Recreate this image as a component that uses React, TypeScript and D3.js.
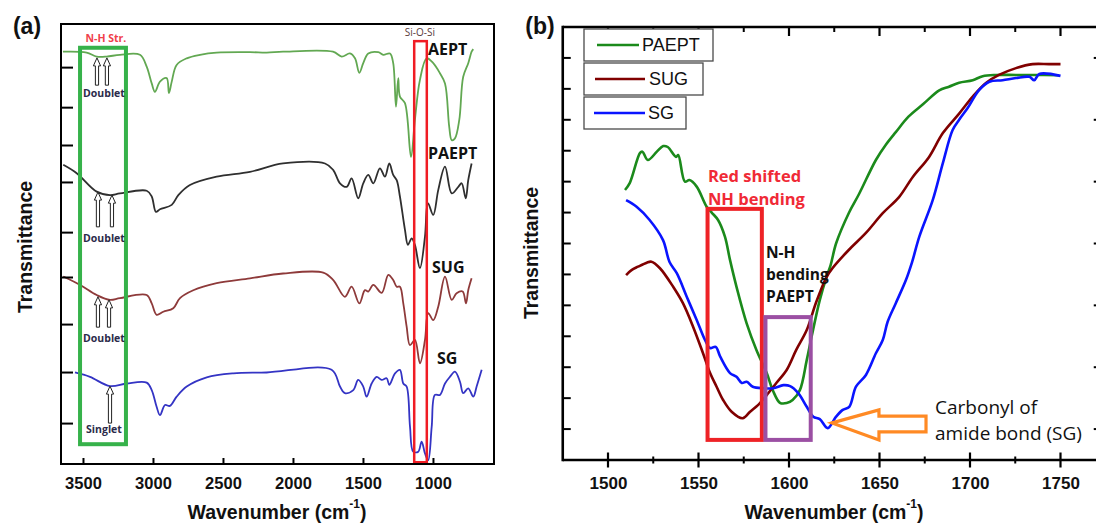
import React, { useEffect, useRef } from "react";
import * as d3 from "d3";

const W = 1096;
const H = 523;

// ---------- panel (a): full FTIR spectra, [wavenumber, transmittance (arb., stacked)]
const aeptA = [
  [3643, 93.7], [3474, 93.5], [3402, 92.6], [3331, 92.6], [3236, 93.0], [3093, 93.0],
  [3045, 90.3], [3009, 86.5], [2986, 84.6], [2950, 86.9], [2902, 87.7], [2886, 84.3],
  [2866, 86.9], [2831, 90.7], [2759, 92.2], [2664, 93.0], [2545, 93.5], [2307, 93.6],
  [2188, 93.5], [2071, 93.7], [1714, 93.7], [1652, 92.6], [1593, 93.3], [1557, 92.2],
  [1526, 88.9], [1498, 91.1], [1462, 93.3], [1391, 93.6], [1355, 93.0], [1307, 93.3],
  [1284, 91.1], [1264, 81.2], [1248, 87.7], [1236, 83.5], [1200, 82.0], [1157, 69.8],
  [1129, 78.2], [1093, 87.3], [1045, 92.2], [998, 91.1], [950, 88.8], [914, 86.5],
  [884, 76.7], [866, 73.6], [843, 74.0], [812, 78.2], [784, 88.0], [748, 91.1],
  [724, 93.7], [712, 94.3],
];
const paeptA = [
  [3641, 68.0], [3545, 66.1], [3402, 61.9], [3307, 61.1], [3236, 61.5], [3045, 62.1],
  [3009, 60.8], [2979, 57.3], [2950, 57.9], [2866, 58.9], [2819, 61.1], [2736, 63.4],
  [2545, 65.3], [2307, 66.4], [2071, 68.3], [1771, 68.3], [1712, 66.8], [1664, 63.8],
  [1616, 63.0], [1581, 64.9], [1534, 60.4], [1498, 63.8], [1462, 65.7], [1426, 63.8],
  [1379, 67.2], [1343, 65.3], [1312, 68.3], [1284, 65.7], [1259, 64.5], [1236, 60.8],
  [1200, 53.2], [1179, 49.8], [1152, 51.3], [1129, 49.8], [1093, 44.5], [1057, 51.7],
  [1036, 59.3], [998, 56.6], [962, 62.3], [914, 67.6], [866, 61.5], [819, 63.0],
  [795, 63.8], [766, 60.4], [748, 64.5], [724, 68.3],
];
const sugA = [
  [3641, 42.6], [3521, 40.7], [3402, 38.4], [3307, 37.3], [3236, 37.7], [3045, 38.4],
  [3009, 36.5], [2974, 33.9], [2926, 34.6], [2855, 35.4], [2807, 37.7], [2712, 39.5],
  [2545, 41.1], [2307, 42.2], [2071, 43.3], [1784, 43.5], [1712, 41.8], [1629, 38.0],
  [1581, 40.3], [1526, 36.5], [1486, 39.5], [1462, 39.2], [1426, 40.7], [1366, 38.9],
  [1319, 43.0], [1284, 41.8], [1259, 40.3], [1236, 40.3], [1212, 36.5], [1188, 31.2],
  [1164, 27.0], [1129, 28.2], [1093, 22.9], [1057, 28.2], [1034, 34.3], [998, 32.7],
  [962, 35.8], [914, 42.6], [866, 37.3], [831, 38.8], [788, 39.2], [764, 36.5],
  [748, 39.5], [724, 42.2],
];
const sgA = [
  [3557, 20.8], [3450, 19.8], [3307, 17.7], [3188, 18.3], [3045, 18.5], [3009, 16.8],
  [2974, 13.0], [2950, 11.1], [2914, 13.4], [2879, 13.2], [2831, 15.3], [2759, 17.6],
  [2616, 19.7], [2426, 20.6], [2188, 20.8], [1724, 21.4], [1664, 17.6], [1629, 16.1],
  [1569, 16.8], [1534, 19.1], [1498, 17.6], [1474, 15.3], [1438, 18.3], [1402, 19.8],
  [1366, 19.1], [1331, 19.5], [1312, 18.0], [1271, 20.6], [1236, 21.4], [1212, 18.3],
  [1188, 17.6], [1164, 8.5], [1141, 2.8], [1105, 2.8], [1081, 5.1], [1057, 2.4],
  [1034, 0.9], [1009, 8.5], [986, 15.7], [950, 15.7], [914, 18.3], [879, 19.8],
  [843, 21.0], [807, 18.7], [784, 16.1], [748, 17.2], [712, 15.3], [688, 17.6], [652, 21.4],
];

const xTicksA = [3500, 3000, 2500, 2000, 1500, 1000];
const yTicksA = [90.2, 81.1, 72.5, 64.1, 52.7, 42.5, 31.8, 20.9, 9.3];

// series labels of panel (a): [name, wavenumber, level]
const labelsA = [
  ["AEPT", 1036, 94.3],
  ["PAEPT", 1036, 70.7],
  ["SUG", 1007, 44.8],
  ["SG", 971, 24.1],
];
// hollow arrows of panel (a): [wavenumber, tip, base]
const arrowsA = [
  [3400, 92.3, 86.1], [3329, 92.3, 86.1],
  [3393, 61.8, 53.9], [3293, 61.1, 53.9],
  [3393, 38.0, 31.1], [3314, 37.3, 31.1],
  [3307, 17.7, 9.3],
];
const arrowTextA = [
  ["Doublet", 3350, 84.3],
  ["Doublet", 3350, 51.4],
  ["Doublet", 3350, 28.6],
  ["Singlet", 3350, 8.0],
];

// ---------- panel (b): zoom on 1500-1750 cm-1
const paeptB = [
  [1509.4, 8.73], [1512, 8.95], [1517.7, 9.93], [1519, 9.97], [1522, 9.7], [1527, 9.97],
  [1530.5, 10.15], [1533, 10.12], [1537.6, 9.8], [1538.8, 9.86], [1542.5, 9.0], [1545, 9.05],
  [1549, 8.84], [1554.5, 8.19], [1557.3, 8.0], [1560.8, 7.76], [1564.6, 7.22], [1567.4, 6.47],
  [1571, 5.6], [1576.6, 4.42], [1582, 3.56], [1587.7, 2.81], [1591, 2.26], [1595, 1.85],
  [1598.7, 1.84], [1602, 1.94], [1606, 2.26], [1609.8, 3.23], [1612.5, 3.99], [1617, 5.17],
  [1620.8, 5.93], [1623, 6.3], [1626, 7.0], [1633, 7.98], [1638.7, 8.6], [1648, 9.7],
  [1653.6, 10.2], [1659, 10.6], [1666, 11.1], [1674, 11.5], [1683, 11.95], [1688.4, 12.07],
  [1694, 12.2], [1701.5, 12.28], [1707, 12.41], [1714.4, 12.45], [1725.4, 12.45],
  [1734.6, 12.45], [1749, 12.44],
];
const sugB = [
  [1510, 5.98], [1513, 6.14], [1516.6, 6.25], [1521.4, 6.38], [1524, 6.41], [1528.7, 6.2],
  [1536, 5.6], [1541.4, 5.07], [1547, 4.31], [1552.5, 3.45], [1556.4, 2.81], [1560, 2.37],
  [1563.6, 1.94], [1568.3, 1.56], [1574.4, 1.35], [1578.5, 1.56], [1583, 1.78], [1587.7, 2.1],
  [1593, 2.49], [1598.7, 2.91], [1604, 3.56], [1609.8, 4.2], [1615, 5.1], [1620.6, 5.9],
  [1624, 6.2], [1633, 6.79], [1642.5, 7.34], [1651.8, 7.98], [1660.8, 8.5], [1668.4, 9.15],
  [1677.4, 9.8], [1685, 10.57], [1694, 11.2], [1701.5, 11.75], [1708.8, 12.19], [1716, 12.45],
  [1725.4, 12.67], [1734.6, 12.8], [1743.6, 12.8], [1750, 12.8],
];
const sgB = [
  [1510, 8.4], [1515.8, 8.19], [1523, 7.76], [1530.4, 7.11], [1534, 6.4], [1538, 6.04],
  [1543.5, 5.28], [1549, 4.53], [1553.6, 3.88], [1556.4, 3.62], [1559.5, 3.66], [1562, 3.34],
  [1567.4, 2.81], [1571, 2.69], [1573.9, 2.49], [1576.6, 2.53], [1580, 2.37], [1585.8, 2.32],
  [1591.3, 2.32], [1596.9, 2.42], [1600.6, 2.39], [1605, 2.17], [1609.8, 1.72], [1613.4, 1.4],
  [1617, 1.32], [1621.4, 1.03], [1626, 1.4], [1629.7, 1.62], [1633.3, 1.72], [1637, 2.37],
  [1642.5, 2.75], [1648, 3.45], [1651.8, 3.88], [1654.5, 4.47], [1659, 5.07], [1664.6, 5.82],
  [1668, 6.4], [1672, 7.22], [1679.4, 8.4], [1685, 9.6], [1690.4, 10.67], [1694, 11.0],
  [1698.7, 11.38], [1705, 11.96], [1710.7, 12.23], [1718, 12.28], [1725.4, 12.35],
  [1732.8, 12.39], [1735.5, 12.28], [1738.3, 12.48], [1750, 12.42],
];

const xMajorB = [1500, 1550, 1600, 1650, 1700, 1750];
const xMinorB = [1525, 1575, 1625, 1675, 1725];
const yTicksB = d3.range(1, 14);

const legendB = [
  { name: "PAEPT", color: "#1b8a1b" },
  { name: "SUG", color: "#800000" },
  { name: "SG", color: "#0a14ff" },
];

const AXIS_FONT = "'Liberation Sans', Arial, sans-serif";
const NOTE_FONT = "'Open Sans', 'Noto Sans', sans-serif";

function arrowPath(x: number, tip: number, base: number) {
  const hw = 3.6, sw = 1.6, hh = 8;
  return `M${x},${tip} L${x + hw},${tip + hh} L${x + sw},${tip + hh} L${x + sw},${base} ` +
    `L${x - sw},${base} L${x - sw},${tip + hh} L${x - hw},${tip + hh} Z`;
}

function App() {
  const svgRef = useRef<SVGSVGElement>(null);

  useEffect(() => {
    const svg = d3.select(svgRef.current);
    svg.selectAll("*").remove();

    // ================= panel (a) =================
    const xA = d3.scaleLinear().domain([3657, 564]).range([61, 494]);
    const yA = d3.scaleLinear().domain([0, 100]).range([464, 24]);
    const gA = svg.append("g");

    const lineA = d3.line<number[]>()
      .x(d => xA(d[0]))
      .y(d => yA(d[1]))
      .curve(d3.curveCatmullRom.alpha(0.5));

    const seriesA: [number[][], string][] = [
      [aeptA, "#62a852"],
      [paeptA, "#2f2f2f"],
      [sugA, "#8e3a3a"],
      [sgA, "#3434c4"],
    ];
    seriesA.forEach(([data, color]) => {
      gA.append("path")
        .attr("d", lineA(data))
        .attr("fill", "none")
        .attr("stroke", color)
        .attr("stroke-width", 1.8)
        .attr("stroke-linejoin", "round");
    });

    // green N-H box and red Si-O-Si box
    gA.append("rect")
      .attr("x", xA(3521)).attr("y", yA(94.6))
      .attr("width", xA(3193) - xA(3521)).attr("height", yA(4.5) - yA(94.6))
      .attr("fill", "none").attr("stroke", "#36b24a").attr("stroke-width", 4);
    gA.append("rect")
      .attr("x", xA(1134)).attr("y", yA(96.1))
      .attr("width", xA(1044) - xA(1134)).attr("height", yA(0.4) - yA(96.1))
      .attr("fill", "none").attr("stroke", "#f01c24").attr("stroke-width", 2.5);

    gA.append("text")
      .attr("x", xA(3336)).attr("y", yA(96.8))
      .attr("text-anchor", "middle").attr("dominant-baseline", "central")
      .attr("font-family", NOTE_FONT).attr("font-weight", 700).attr("font-size", 10.5)
      .attr("fill", "#f0404a").text("N-H Str.");
    gA.append("text")
      .attr("x", xA(1093)).attr("y", yA(98.2))
      .attr("text-anchor", "middle").attr("dominant-baseline", "central")
      .attr("font-family", NOTE_FONT).attr("font-size", 10)
      .attr("fill", "#5a3a3a").text("Si-O-Si");

    arrowsA.forEach(([v, tip, base]) => {
      gA.append("path")
        .attr("d", arrowPath(xA(v), yA(tip), yA(base)))
        .attr("fill", "#fff").attr("stroke", "#222").attr("stroke-width", 1);
    });
    arrowTextA.forEach(([t, v, u]) => {
      gA.append("text")
        .attr("x", xA(v as number)).attr("y", yA(u as number))
        .attr("text-anchor", "middle").attr("dominant-baseline", "central")
        .attr("font-family", NOTE_FONT).attr("font-weight", 700).attr("font-size", 10.5)
        .attr("fill", "#2b2b4a").text(t as string);
    });
    labelsA.forEach(([t, v, u]) => {
      gA.append("text")
        .attr("x", xA(v as number)).attr("y", yA(u as number))
        .attr("dominant-baseline", "central")
        .attr("font-family", NOTE_FONT).attr("font-weight", 700).attr("font-size", 16)
        .attr("fill", "#111").text(t as string);
    });

    // frame + ticks
    gA.append("rect")
      .attr("x", 61).attr("y", 24).attr("width", 433).attr("height", 440)
      .attr("fill", "none").attr("stroke", "#000").attr("stroke-width", 2);

    const axA = gA.append("g").attr("transform", `translate(0,${yA(0)})`)
      .call(d3.axisBottom(xA).tickValues(xTicksA).tickSizeInner(-6).tickSizeOuter(0).tickPadding(13).tickFormat(d3.format("d")));
    axA.select(".domain").remove();
    axA.selectAll("line").attr("stroke-width", 2);
    axA.selectAll("text")
      .attr("font-family", AXIS_FONT).attr("font-weight", 700).attr("font-size", 16.5).attr("fill", "#111");

    const ayA = gA.append("g").attr("transform", `translate(${xA(3657)},0)`)
      .call(d3.axisLeft(yA).tickValues(yTicksA).tickSizeInner(-12).tickSizeOuter(0).tickFormat(() => ""));
    ayA.select(".domain").remove();
    ayA.selectAll("line").attr("stroke-width", 2);

    // ================= panel (b) =================
    const xB = d3.scaleLinear().domain([1475, 1775]).range([562.75, 1105.75]);
    const yB = d3.scaleLinear().domain([0, 14]).range([460, 27]);
    const gB = svg.append("g");

    const lineB = d3.line<number[]>()
      .x(d => xB(d[0]))
      .y(d => yB(d[1]))
      .curve(d3.curveCatmullRom.alpha(0.5));

    [paeptB, sugB, sgB].forEach((data, i) => {
      gB.append("path")
        .attr("d", lineB(data))
        .attr("fill", "none")
        .attr("stroke", legendB[i].color)
        .attr("stroke-width", 2.6)
        .attr("stroke-linejoin", "round");
    });

    // boxes
    gB.append("rect")
      .attr("x", xB(1555)).attr("y", yB(8.12))
      .attr("width", xB(1585) - xB(1555)).attr("height", yB(0.65) - yB(8.12))
      .attr("fill", "none").attr("stroke", "#ee2226").attr("stroke-width", 4);
    gB.append("rect")
      .attr("x", xB(1587)).attr("y", yB(4.62))
      .attr("width", xB(1612) - xB(1587)).attr("height", yB(0.65) - yB(4.62))
      .attr("fill", "none").attr("stroke", "#9b4fa3").attr("stroke-width", 4);

    const noteB = (t: string, v: number, u: number, color: string, bold: boolean, size: number) =>
      gB.append("text")
        .attr("x", xB(v)).attr("y", yB(u))
        .attr("dominant-baseline", "central")
        .attr("font-family", NOTE_FONT).attr("font-weight", bold ? 700 : 400)
        .attr("font-size", size)
        .attr("fill", color).text(t);
    noteB("Red shifted", 1555.2, 9.21, "#f02a36", true, 16.5);
    noteB("NH bending", 1555.2, 8.44, "#f02a36", true, 16.5);
    noteB("N-H", 1587.3, 6.72, "#111", true, 15.5);
    noteB("bending", 1587.3, 6.01, "#111", true, 15.5);
    noteB("PAEPT", 1587.3, 5.30, "#111", true, 15.5);
    noteB("Carbonyl of", 1680.7, 1.71, "#111", false, 19);
    noteB("amide bond (SG)", 1680.7, 0.87, "#111", false, 19);

    // orange outline arrow pointing at the SG carbonyl minimum
    const tip: [number, number] = [xB(1623.8), yB(1.2)];
    const hb = xB(1649.7), tail = xB(1675.7);
    gB.append("path")
      .attr("d", `M${tip[0]},${tip[1]} L${hb},${yB(1.62)} L${hb},${yB(1.42)} L${tail},${yB(1.42)} ` +
        `L${tail},${yB(0.91)} L${hb},${yB(0.91)} L${hb},${yB(0.65)} Z`)
      .attr("fill", "#fff").attr("stroke", "#ff8a24").attr("stroke-width", 3.2)
      .attr("stroke-linejoin", "miter");

    // axes
    const axisLine = (x1: number, y1: number, x2: number, y2: number, w: number) =>
      gB.append("line").attr("x1", x1).attr("y1", y1).attr("x2", x2).attr("y2", y2)
        .attr("stroke", "#000").attr("stroke-width", w);
    axisLine(xB(1475), yB(0), xB(1775), yB(0), 2.6);
    axisLine(xB(1475), yB(14), xB(1775), yB(14), 2.6);
    axisLine(xB(1475), yB(0) + 1.3, xB(1475), yB(14) - 1.3, 2.6);
    axisLine(xB(1775), yB(0), xB(1775), yB(14), 2.6);

    xMajorB.forEach(v => {
      axisLine(xB(v), yB(0) - 7.5, xB(v), yB(0) + 7.5, 2.2);
      axisLine(xB(v), yB(14), xB(v), yB(14) + 9, 2.2);
    });
    xMinorB.forEach(v => {
      axisLine(xB(v), yB(0) - 3.5, xB(v), yB(0) + 3.5, 2);
      axisLine(xB(v), yB(14), xB(v), yB(14) + 5, 2);
    });
    yTicksB.forEach(u => {
      axisLine(xB(1475), yB(u), xB(1475) + 8, yB(u), 2);
      if (u % 2 === 1) axisLine(xB(1775) - 12, yB(u), xB(1775), yB(u), 2);
    });

    const axB = gB.append("g").attr("transform", `translate(0,${yB(0)})`)
      .call(d3.axisBottom(xB).tickValues(xMajorB).tickSize(0).tickPadding(17).tickFormat(d3.format("d")));
    axB.select(".domain").remove();
    axB.selectAll("text")
      .attr("font-family", AXIS_FONT).attr("font-weight", 700).attr("font-size", 17).attr("fill", "#111");

    // legend
    legendB.forEach((s, i) => {
      const bw = [129, 119, 102][i];
      const by = 29 + i * 34;
      gB.append("rect")
        .attr("x", 584).attr("y", by).attr("width", bw).attr("height", 32)
        .attr("fill", "#fff").attr("stroke", "#4a4a4a").attr("stroke-width", 1.3);
      gB.append("line")
        .attr("x1", [597, 595, 594][i]).attr("x2", [639, 645, 645][i])
        .attr("y1", by + 16).attr("y2", by + 16)
        .attr("stroke", s.color).attr("stroke-width", 2.6);
      gB.append("text")
        .attr("x", [642, 649, 648][i]).attr("y", by + 16)
        .attr("dominant-baseline", "central")
        .attr("font-family", AXIS_FONT).attr("font-size", 18).attr("fill", "#111")
        .text(s.name);
    });

    // ================= shared titles =================
    const title = (cx: number, cy: number, rotate: boolean, t: string, sup?: boolean) => {
      const el = svg.append("text")
        .attr("transform", `translate(${cx},${cy})${rotate ? " rotate(-90)" : ""}`)
        .attr("text-anchor", "middle").attr("dominant-baseline", "central")
        .attr("font-family", AXIS_FONT).attr("font-weight", 700).attr("font-size", 19.5)
        .attr("fill", "#111");
      if (sup) {
        el.append("tspan").text("Wavenumber (cm");
        el.append("tspan").attr("dy", -8).attr("font-size", 12).text("-1");
        el.append("tspan").attr("dy", 8).text(")");
      } else el.text(t);
    };
    title(277, 512, false, "", true);
    title(834, 512, false, "", true);
    title(25, 247, true, "Transmittance");
    title(531, 253, true, "Transmittance");

    svg.append("text").attr("x", 27).attr("y", 26)
      .attr("text-anchor", "middle").attr("dominant-baseline", "central")
      .attr("font-family", AXIS_FONT).attr("font-weight", 700).attr("font-size", 23)
      .attr("fill", "#111").text("(a)");
    svg.append("text").attr("x", 540).attr("y", 26)
      .attr("text-anchor", "middle").attr("dominant-baseline", "central")
      .attr("font-family", AXIS_FONT).attr("font-weight", 700).attr("font-size", 23)
      .attr("fill", "#111").text("(b)");
  }, []);

  return (
    <svg
      ref={svgRef}
      width={W}
      height={H}
      style={{ position: "absolute", left: 0, top: 0, background: "#fff" }}
    />
  );
}

export default App;
